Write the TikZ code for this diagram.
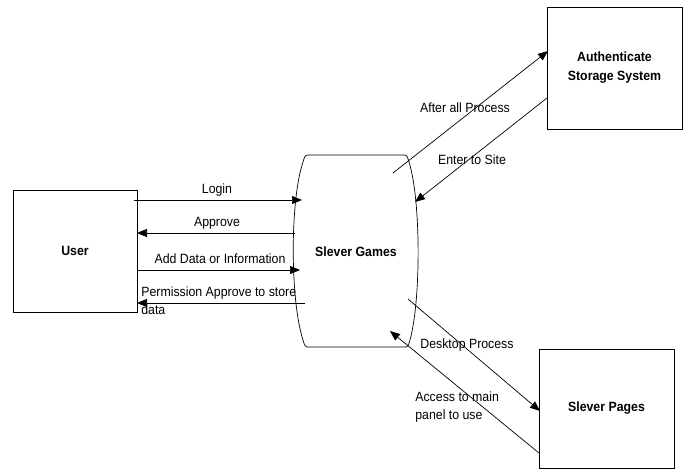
\documentclass[tikz,border=0pt]{standalone}
\usepackage{fontspec}
\setmainfont{Liberation Sans}[FakeStretch=0.92]
\usetikzlibrary{arrows.meta}
\begin{document}
\begin{tikzpicture}[x=1pt,y=-1pt,line width=0.7pt,
  box/.style={draw,inner sep=0pt,outer sep=0pt,align=center,
    font=\bfseries\fontsize{13.4}{19}\selectfont},
  lbl/.style={inner sep=0pt,font=\fontsize{13.4}{18.5}\selectfont},
  ttl/.style={inner sep=0pt,font=\bfseries\fontsize{13.4}{19}\selectfont},
  flow/.style={-{Triangle[length=10pt,width=8pt]}}]
\useasboundingbox (0,0) rectangle (686,472);
% boxes
\node[box,minimum width=124pt,minimum height=122pt] (user) at (75,251) {User};
\node[box,minimum width=135pt,minimum height=122pt] (auth) at (614.5,68) {Authenticate\\Storage System};
\node[box,minimum width=135pt,minimum height=119pt] (pages) at (606.5,408.5) {Slever Pages};
% process shape
\node[ttl] (sg) at (356,252) {Slever Games};
\draw (310,155) -- (402,155) .. controls (407,155) .. (409,162)
  .. controls (421,200) and (421,300) .. (410,340)
  .. controls (408,347) .. (403,347) -- (310,347)
  .. controls (305,347) .. (303,340)
  .. controls (290,300) and (290,200) .. (303,162)
  .. controls (305,155) .. (310,155) -- cycle;
% endpoints
\coordinate (loginA) at (134,200); \coordinate (loginB) at (302,200);
\coordinate (apprA) at (295,233);  \coordinate (apprB) at (137,233);
\coordinate (addA) at (137,270);   \coordinate (addB) at (300,270);
\coordinate (permA) at (305,303);  \coordinate (permB) at (137,303);
\coordinate (aftA) at (393,173);   \coordinate (aftB) at (548,51);
\coordinate (entA) at (547,98);    \coordinate (entB) at (415,202);
\coordinate (deskA) at (408,299);  \coordinate (deskB) at (540,411);
\coordinate (accA) at (539,453);   \coordinate (accB) at (390,331);
% flows
\draw[flow] (loginA) -- (loginB);
\draw[flow] (apprA) -- (apprB);
\draw[flow] (addA) -- (addB);
\draw[flow] (permA) -- (permB);
\draw[flow] (aftA) -- (aftB);
\draw[flow] (entA) -- (entB);
\draw[flow] (deskA) -- (deskB);
\draw[flow] (accA) -- (accB);
% labels
\node[lbl] (lLogin) at (217,190) {Login};
\node[lbl] (lAppr) at (217,223) {Approve};
\node[lbl] (lAdd) at (220,259) {Add Data or Information};
\node[lbl,align=left,anchor=north west] (lPerm) at (141,286) {Permission Approve to store\\data};
\node[lbl] (lAft) at (465,108) {After all Process};
\node[lbl] (lEnt) at (472,160) {Enter to Site};
\node[lbl] (lDesk) at (467,345) {Desktop Process};
\node[lbl,align=left,anchor=north west] (lAcc) at (415,391) {Access to main\\panel to use};
\end{tikzpicture}
\end{document}
